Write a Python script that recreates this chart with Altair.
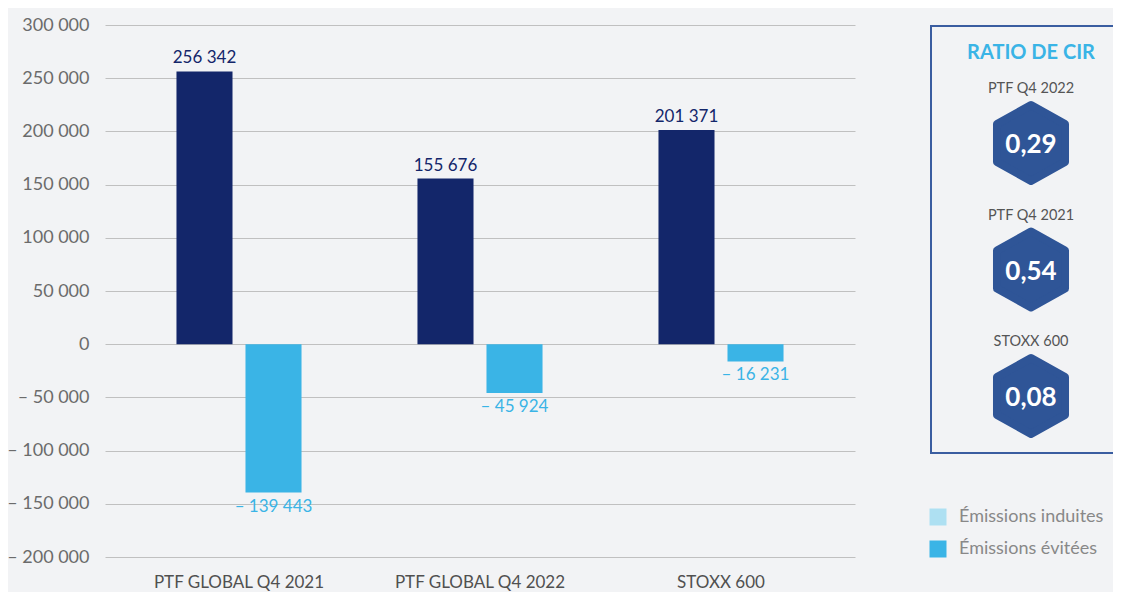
import altair as alt
import pandas as pd

categories = ["PTF GLOBAL Q4 2021", "PTF GLOBAL Q4 2022", "STOXX 600"]
series = ["Émissions induites", "Émissions évitées"]
induites = [256342, 155676, 201371]
evitees = [-139443, -45924, -16231]
y_ticks = [-200000, -150000, -100000, -50000, 0, 50000, 100000, 150000, 200000, 250000, 300000]

ratio_title = "RATIO DE CIR"
ratio_labels = ["PTF Q4 2022", "PTF Q4 2021", "STOXX 600"]
ratio_values = [0.29, 0.54, 0.08]

FONT = "Lato"
NAVY = "#13266a"
BLUE = "#3ab4e6"
LIGHT = "#aee0f2"
HEXBLUE = "#2f5597"

bars_df = pd.DataFrame({
    "cat": categories * 2,
    "serie": [series[0]] * 3 + [series[1]] * 3,
    "value": induites + evitees,
})
ratio_df = pd.DataFrame({"label": ratio_labels, "ratio": ratio_values})
legend_df = pd.DataFrame({"serie": series})
one_df = pd.DataFrame({"t": [ratio_title]})

W, H = 750, 532
y_scale = alt.Scale(domain=[-200000, 300000], nice=False, zero=False)

x_enc = alt.X(
    "cat:N", sort=categories,
    scale=alt.Scale(paddingInner=0, paddingOuter=0.056),
    axis=alt.Axis(title=None, labelAngle=0, labelFontSize=17, labelColor="#505050",
                  labelPadding=17, ticks=False, domain=False, grid=False, labelFont=FONT),
)
xo_enc = alt.XOffset("serie:N", sort=series, scale=alt.Scale(paddingInner=0.188, paddingOuter=0.84))

base = alt.Chart(bars_df)

bars = base.mark_bar().encode(
    x=x_enc,
    xOffset=xo_enc,
    y=alt.Y("value:Q", scale=y_scale,
            axis=alt.Axis(values=y_ticks, format=",d", title=None, labelFontSize=18,
                          labelColor="#6b6b6b", labelPadding=16, ticks=False, domain=False,
                          grid=True, gridColor="#c0c0c0", gridWidth=1, labelFont=FONT)),
    color=alt.Color("serie:N", sort=series, scale=alt.Scale(domain=series, range=[NAVY, BLUE]), legend=None),
)

pos_labels = base.transform_filter("datum.value > 0").mark_text(
    baseline="bottom", dy=-4, fontSize=17, color=NAVY, font=FONT
).encode(
    x=x_enc, xOffset=xo_enc,
    y=alt.Y("value:Q", scale=y_scale, axis=None),
    text=alt.Text("value:Q", format=",d"),
)

neg_labels = base.transform_filter("datum.value < 0").mark_text(
    baseline="top", dy=6, fontSize=17, color=BLUE, font=FONT
).encode(
    x=x_enc, xOffset=xo_enc,
    y=alt.Y("value:Q", scale=y_scale, axis=None),
    text=alt.Text("value:Q", format=",d"),
)

box = alt.Chart(one_df).mark_rect(fillOpacity=0, stroke="#3a5da0", strokeWidth=2).encode(
    x=alt.value(826), x2=alt.value(1040), y=alt.value(1), y2=alt.value(428)
)

title = alt.Chart(one_df).mark_text(
    fontSize=20, fontWeight="bold", color=BLUE, font=FONT, baseline="middle"
).encode(x=alt.value(926), y=alt.value(28), text="t:N")

ry = alt.Y("label:N", sort=ratio_labels,
           scale=alt.Scale(type="point", range=[118, 371], padding=0), axis=None)

HEX = "M0,-1L0.895,-0.5L0.895,0.5L0,1L-0.895,0.5L-0.895,-0.5Z"
hexes = alt.Chart(ratio_df).mark_point(
    shape=HEX, filled=True, size=5776, color=HEXBLUE, stroke=HEXBLUE,
    strokeWidth=8, strokeJoin="round", opacity=1,
).encode(x=alt.value(926), y=ry)

rlabels = alt.Chart(ratio_df).mark_text(
    dy=-54, fontSize=14.5, color="#555555", font=FONT, baseline="middle"
).encode(x=alt.value(926), y=ry, text="label:N")

rvalues = alt.Chart(ratio_df).mark_text(
    dy=2, fontSize=26, fontWeight="bold", color="white", font=FONT, baseline="middle"
).encode(x=alt.value(926), y=ry, text=alt.Text("ratio:Q", format=".2f"))

legend_layer = alt.Chart(legend_df).mark_square(opacity=0).encode(
    color=alt.Color(
        "serie:N", sort=series,
        scale=alt.Scale(domain=series, range=[LIGHT, BLUE]),
        legend=alt.Legend(title=None, orient="none", legendX=824, legendY=483,
                          symbolType="square", symbolSize=289, symbolOpacity=1,
                          symbolStrokeWidth=0, labelFontSize=18, labelColor="#888888",
                          labelFont=FONT, labelOffset=12, rowPadding=14, padding=0,
                          labelLimit=300),
    )
)

chart = alt.layer(
    bars, pos_labels, neg_labels, box, title, hexes, rlabels, rvalues, legend_layer
).resolve_scale(
    y="independent", color="independent"
).properties(
    width=W, height=H,
    padding={"left": 97, "top": 17, "right": 258, "bottom": 35},
    autosize=alt.AutoSizeParams(type="none"),
).configure(
    background="#f2f3f5",
    locale={"number": {"decimal": ",", "thousands": " ", "grouping": [3],
                       "currency": ["", " €"], "minus": "– "}},
).configure_view(strokeWidth=0)

chart.save("out.html", embed_options={"renderer": "svg", "actions": False})
